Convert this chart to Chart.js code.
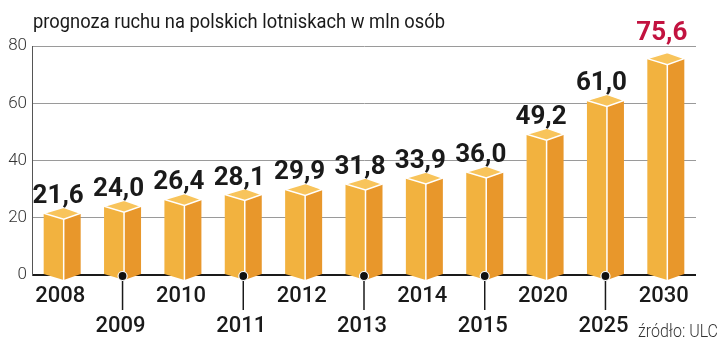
<!DOCTYPE html>
<html>
<head>
<meta charset="utf-8">
<script src="https://cdn.jsdelivr.net/npm/chart.js@4/dist/chart.umd.min.js"></script>
<style>
  body { margin: 0; background: #fff; }
</style>
</head>
<body>
<canvas id="chart" width="720" height="343"></canvas>
<script>
// data
const years = ['2008', '2009', '2010', '2011', '2012', '2013', '2014', '2015', '2020', '2025', '2030'];
const traffic = [21.6, 24.0, 26.4, 28.1, 29.9, 31.8, 33.9, 36.0, 49.2, 61.0, 75.6];
const yTicks = [0, 20, 40, 60, 80];
const title = 'prognoza ruchu na polskich lotniskach w mln osób';
const source = 'źródło: ULC';

const colTop = '#f8c45b';
const colFront = '#f2b23f';
const colSide = '#e8972b';

function fmt(v) {
    return v.toFixed(1).replace('.', ',');
}

// narrow text: scale horizontally so it fits given width
function narrowText(ctx, s, x, y, w, align) {
    let mw = ctx.measureText(s).width;
    let k = Math.min(1, w / mw);
    ctx.save();
    ctx.translate(x, y);
    ctx.scale(k, 1);
    ctx.textAlign = align;
    ctx.fillText(s, 0, 0);
    ctx.restore();
}

const boxes = {
    id: 'boxes',
    afterDatasetsDraw(chart) {
        let ctx = chart.ctx;
        let meta = chart.getDatasetMeta(0);
        let d = 6;
        ctx.save();
        meta.data.forEach(function(el, i) {
            let cx = el.x;
            let L = cx - 18.5, M = cx + 1.5, R = cx + 18.5;
            let yv = el.y, y0 = el.base;
            // front face
            ctx.fillStyle = colFront;
            ctx.beginPath();
            ctx.moveTo(L, yv); ctx.lineTo(M, yv + d); ctx.lineTo(M, y0 + d); ctx.lineTo(L, y0);
            ctx.closePath(); ctx.fill();
            // side face
            ctx.fillStyle = colSide;
            ctx.beginPath();
            ctx.moveTo(M, yv + d); ctx.lineTo(R, yv); ctx.lineTo(R, y0); ctx.lineTo(M, y0 + d);
            ctx.closePath(); ctx.fill();
            // top
            ctx.fillStyle = colTop;
            ctx.beginPath();
            ctx.moveTo(L, yv); ctx.lineTo(M, yv - d); ctx.lineTo(R, yv); ctx.lineTo(M, yv + d);
            ctx.closePath(); ctx.fill();
            ctx.strokeStyle = '#fff';
            ctx.lineWidth = 1.5;
            ctx.stroke();
            ctx.beginPath();
            ctx.moveTo(M, yv + d); ctx.lineTo(M, y0 + d);
            ctx.stroke();

            // value label
            let last = i === traffic.length - 1;
            ctx.fillStyle = last ? '#c2123f' : '#1a1a1a';
            ctx.font = 'bold 26px Roboto';
            ctx.textAlign = 'center';
            ctx.textBaseline = 'alphabetic';
            ctx.fillText(fmt(traffic[i]), cx - 4, yv - d - (last ? 13 : 4));

            // year labels, every second one lower with a pointer
            ctx.font = '500 22px Roboto';
            ctx.fillStyle = '#1a1a1a';
            if (i % 2 === 0) {
                ctx.fillText(years[i], cx - 2, 302);
            } else {
                ctx.strokeStyle = '#1a1a1a';
                ctx.lineWidth = 1.5;
                ctx.beginPath();
                ctx.moveTo(cx, y0 + 2); ctx.lineTo(cx, 310);
                ctx.stroke();
                ctx.beginPath();
                ctx.arc(cx, y0 + 2, 4.5, 0, Math.PI * 2);
                ctx.fillStyle = '#111';
                ctx.fill();
                ctx.strokeStyle = '#fff';
                ctx.lineWidth = 1.2;
                ctx.stroke();
                ctx.fillStyle = '#1a1a1a';
                ctx.fillText(years[i], cx - 2, 332);
            }
        });

        // title and source
        ctx.fillStyle = '#1a1a1a';
        ctx.font = '21px Roboto';
        ctx.textBaseline = 'alphabetic';
        narrowText(ctx, title, 33, 28, 412, 'left');
        ctx.fillStyle = '#333';
        ctx.font = '300 18px Roboto';
        narrowText(ctx, source, 718, 337, 80, 'right');
        ctx.restore();
    }
};

new Chart(document.getElementById('chart'), {
    type: 'bar',
    data: {
        labels: years,
        datasets: [{
            data: traffic,
            backgroundColor: 'rgba(0,0,0,0)',
            borderWidth: 0
        }]
    },
    options: {
        responsive: false,
        animation: false,
        layout: {
            padding: { top: 46, right: 24, bottom: 60, left: 0 }
        },
        plugins: {
            legend: { display: false },
            tooltip: { enabled: false }
        },
        scales: {
            x: {
                offset: true,
                grid: { display: false },
                border: { display: false },
                ticks: { display: false }
            },
            y: {
                min: 0,
                max: 80,
                afterFit: function(scale) { scale.width = 32; },
                afterBuildTicks: function(scale) {
                    scale.ticks = yTicks.map(v => ({ value: v }));
                },
                border: { color: '#555', width: 1 },
                grid: {
                    drawTicks: false,
                    color: ctx => ctx.tick.value === 0 ? '#1a1a1a' : '#9a9a9a',
                    lineWidth: ctx => ctx.tick.value === 0 ? 2 : 1
                },
                ticks: {
                    padding: 5,
                    color: '#333',
                    font: { family: 'Roboto', size: 17, weight: '300' }
                }
            }
        }
    },
    plugins: [boxes]
});
</script>
</body>
</html>
